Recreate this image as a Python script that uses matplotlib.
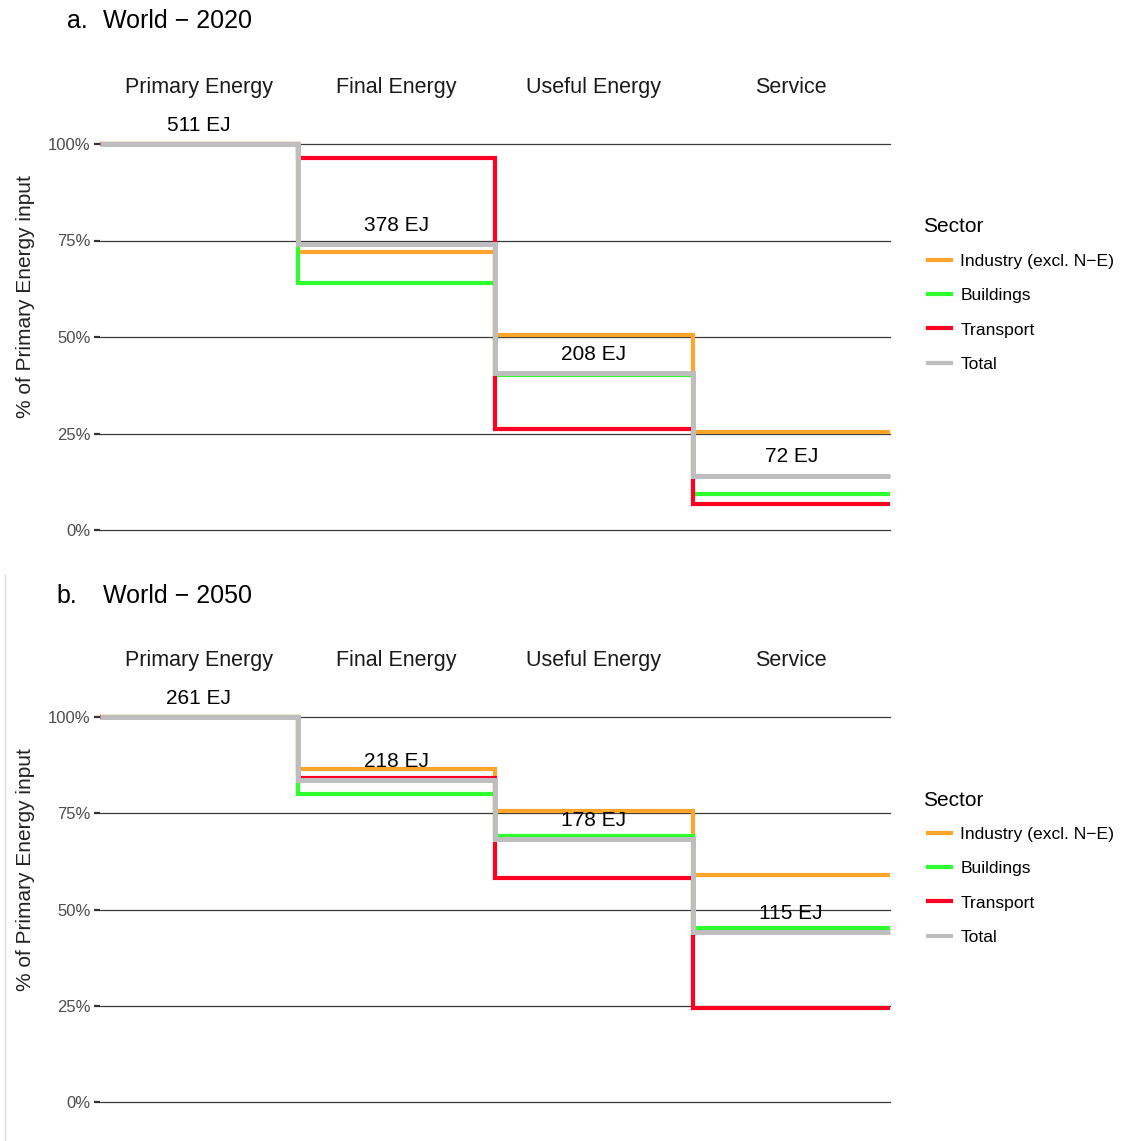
#!/usr/bin/env python
# Energy cascade: share of primary energy kept at each conversion stage, by sector

import numpy as np
import matplotlib.pyplot as plt
from matplotlib.lines import Line2D

plt.rcParams['font.family'] = ['Liberation Sans', 'DejaVu Sans']

stages = ['Primary Energy', 'Final Energy', 'Useful Energy', 'Service']
sectors = ['Industry (excl. N\u2212E)', 'Buildings', 'Transport', 'Total']
colors = ['#FFA52C', '#2EFF2E', '#FF0022', '#BEBEBE']

# 2020 (% of primary energy input, totals from EJ)
ej_2020 = [511, 378, 208, 72]
industry_2020 = [100, 72.0, 50.5, 25.4]
buildings_2020 = [100, 64.0, 40.2, 9.3]
transport_2020 = [100, 96.4, 26.2, 6.7]

# 2050
ej_2050 = [261, 218, 178, 115]
industry_2050 = [100, 86.5, 75.6, 59.0]
buildings_2050 = [100, 80.0, 69.1, 45.2]
transport_2050 = [100, 84.2, 58.2, 24.4]

W, H = 1127, 1141
fig = plt.figure(figsize=(W / 100, H / 100), dpi=100)


def px_box(x0, y0, x1, y1):
    # pixel rectangle (top-left origin) -> figure fraction
    return [x0 / W, 1 - y1 / H, (x1 - x0) / W, (y1 - y0) / H]


def draw_panel(ax, industry, buildings, transport, ej, tag, title, tag_x, title_y, legend_y):
    total = [100.0 * e / ej[0] for e in ej]
    series = [industry, buildings, transport, total]
    xs = np.arange(len(stages) + 1)

    for yv in [0, 25, 50, 75, 100]:
        ax.axhline(yv, color='#3a3a3a', lw=0.9, zorder=1, clip_on=False)

    for name, vals, col in zip(sectors, series, colors):
        ys = list(vals) + [vals[-1]]
        lw = 3.6 if name == 'Total' else 3.0
        ax.step(xs, ys, where='post', color=col, lw=lw, label=name,
                clip_on=False, zorder=3, solid_joinstyle='miter',
                solid_capstyle='butt')

    # EJ labels sit just above the total line
    for i, e in enumerate(ej):
        ax.annotate('%d EJ' % e, xy=(i + 0.5, total[i]), xytext=(0, 13.5),
                    textcoords='offset points', ha='center', va='center',
                    fontsize=15, color='black', zorder=4)

    # stage names along the top
    for i, s in enumerate(stages):
        ax.annotate(s, xy=(i + 0.5, 100), xytext=(0, 41), textcoords='offset points',
                    ha='center', va='center', fontsize=15.5, color='#1a1a1a')

    ax.set_xlim(0, 4)
    ax.set_ylim(0, 100)
    ax.set_xticks([])
    ax.set_yticks([0, 25, 50, 75, 100])
    ax.set_yticklabels(['0%', '25%', '50%', '75%', '100%'])
    ax.tick_params(axis='y', length=4, width=1.6, color='#333333', labelsize=12,
                   labelcolor='#4d4d4d', pad=3)
    for sp in ax.spines.values():
        sp.set_visible(False)
    ax.set_ylabel('% of Primary Energy input', fontsize=15, color='#222222')
    ax.yaxis.set_label_coords(-0.082, 0.604)

    fig.text(tag_x / W, 1 - title_y / H, tag, fontsize=18, va='center', ha='left')
    fig.text(103 / W, 1 - title_y / H, title, fontsize=18, va='center', ha='left')

    # legend: title as plain text, entries below it
    fig.text(923 / W, 1 - legend_y / H, 'Sector', fontsize=15, va='center', ha='left')
    handles = [Line2D([], [], color=c, lw=3) for c in colors]
    fig.legend(handles, sectors, loc='upper left',
               bbox_to_anchor=(921 / W, 1 - (legend_y + 20) / H), frameon=False,
               fontsize=12.6, handlelength=1.3, handletextpad=0.55,
               labelspacing=1.08, borderaxespad=0)


ax1 = fig.add_axes(px_box(100, 144, 890, 530))
draw_panel(ax1, industry_2020, buildings_2020, transport_2020, ej_2020,
           'a.', 'World \u2212 2020', 67, 21, 227)

ax2 = fig.add_axes(px_box(100, 717, 890, 1102))
draw_panel(ax2, industry_2050, buildings_2050, transport_2050, ej_2050,
           'b.', 'World \u2212 2050', 56, 596, 800)

# thin frame edge left of the lower panel
fig.add_artist(Line2D([5 / W, 5 / W], [0, 1 - 575 / H], color='#dddddd', lw=1))

fig.savefig('out.png', dpi=100)
